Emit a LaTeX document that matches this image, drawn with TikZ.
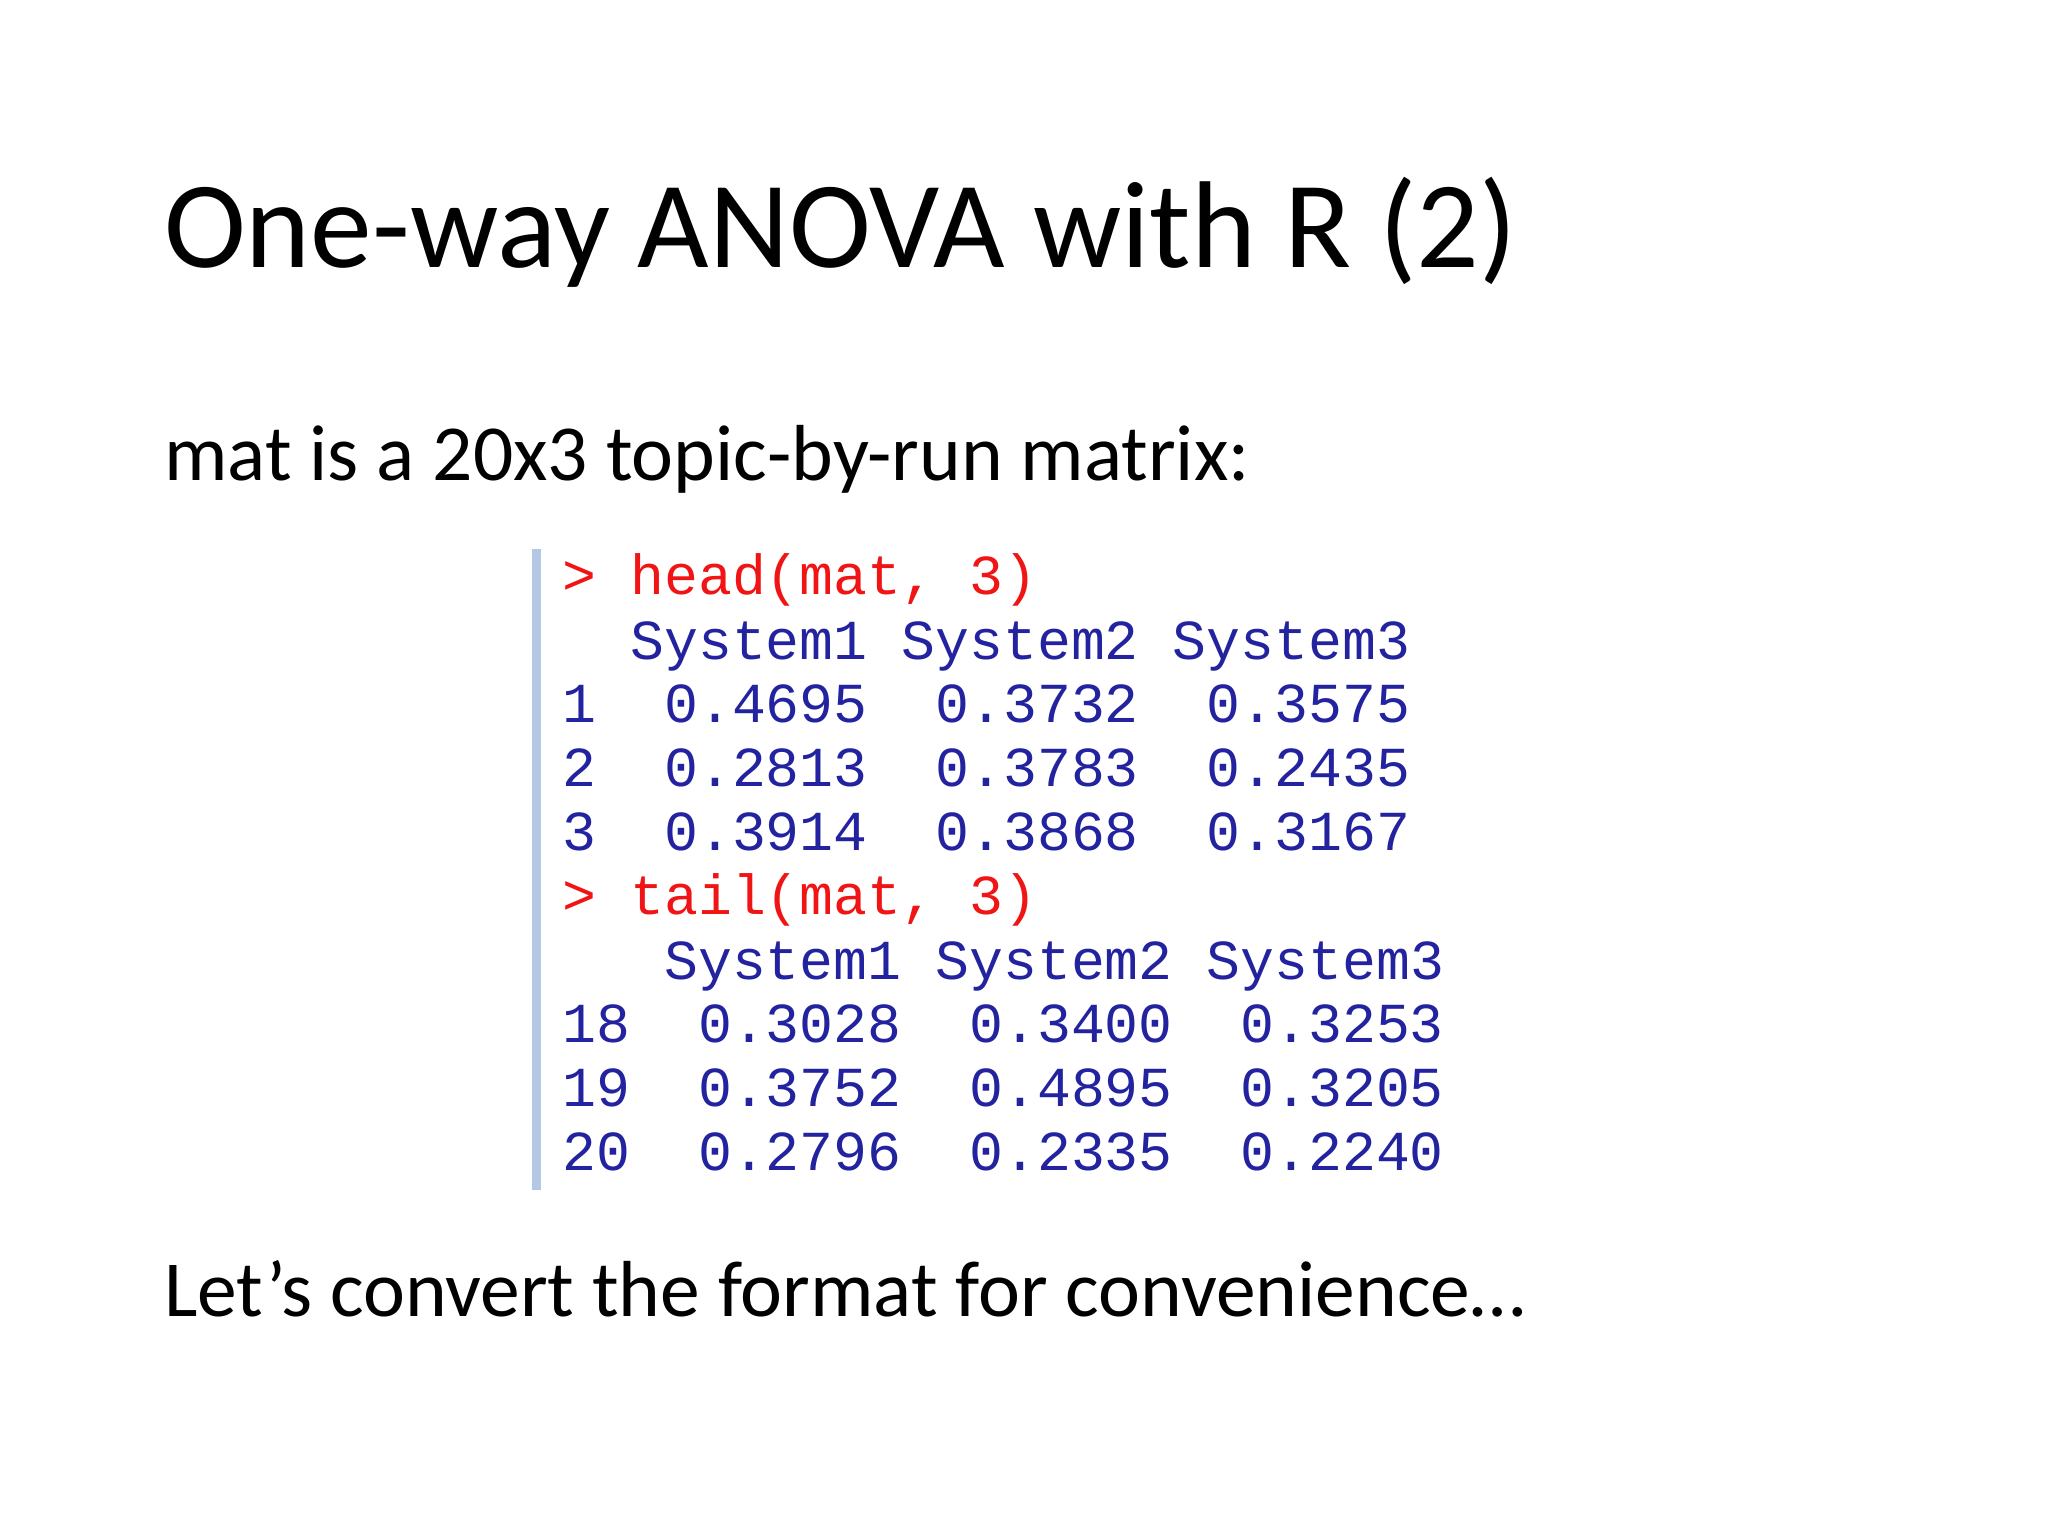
\documentclass[tikz,border=0pt]{standalone}
\usepackage{fontspec}
\setmainfont{Carlito}
\setmonofont{Liberation Mono}
\definecolor{rred}{RGB}{240,20,20}
\definecolor{rblue}{RGB}{35,35,160}
\definecolor{barblue}{RGB}{180,200,230}
\begin{document}
\begin{tikzpicture}[x=0.01cm,y=-0.01cm,
  code/.style={anchor=base west,inner sep=0pt,font=\fontsize{12.3}{14}\selectfont\ttfamily},
  txt/.style={anchor=base west,inner sep=0pt,font=\fontsize{17.3}{21}\selectfont}]
\useasboundingbox (0,0) rectangle (1568,1176);
\node[anchor=base west,inner sep=0pt,font=\fontsize{26.9}{32}\selectfont] (title) at (125,205) {One-way ANOVA with R (2)};
\node[txt] (sub) at (125,368) {mat is a 20x3 topic-by-run matrix:};
\fill[barblue] (407,420) rectangle (414,911);
\node[code,text=rred] (l1) at (430,455) {>~head(mat,~3)};
\node[code,text=rblue] (l2) at (430,505) {~~System1~System2~System3};
\node[code,text=rblue] (l3) at (430,553) {1~~0.4695~~0.3732~~0.3575};
\node[code,text=rblue] (l4) at (430,602) {2~~0.2813~~0.3783~~0.2435};
\node[code,text=rblue] (l5) at (430,651) {3~~0.3914~~0.3868~~0.3167};
\node[code,text=rred] (l6) at (430,700) {>~tail(mat,~3)};
\node[code,text=rblue] (l7) at (430,750) {~~~System1~System2~System3};
\node[code,text=rblue] (l8) at (430,798) {18~~0.3028~~0.3400~~0.3253};
\node[code,text=rblue] (l9) at (430,847) {19~~0.3752~~0.4895~~0.3205};
\node[code,text=rblue] (l10) at (430,896) {20~~0.2796~~0.2335~~0.2240};
\node[txt] (bot) at (125,1008) {Let’s convert the format for convenience…};
\end{tikzpicture}
\end{document}
